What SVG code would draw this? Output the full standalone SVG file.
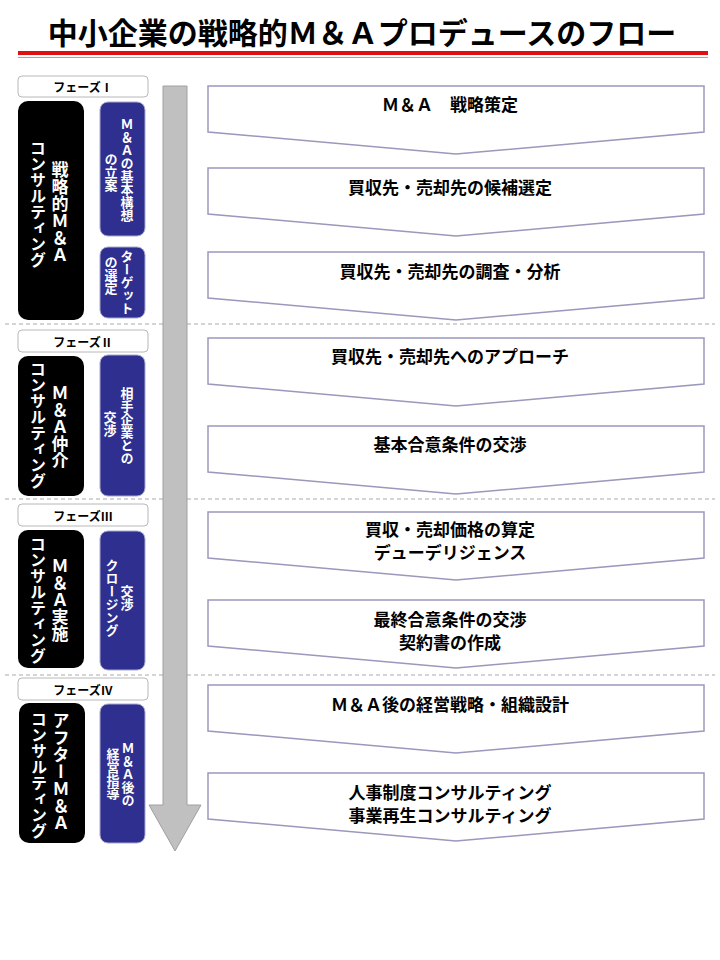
<svg xmlns="http://www.w3.org/2000/svg" width="720" height="960" viewBox="0 0 720 960">
<style>
text{font-family:"Noto Sans CJK JP","Liberation Sans",sans-serif;font-weight:bold;}
.title{font-size:30px;fill:#000;}
.step{fill:#fff;stroke:#9a98bc;stroke-width:1.5;}
.st{font-size:17px;fill:#000;text-anchor:middle;dominant-baseline:central;}
.lab{fill:#fff;stroke:#b8b8b8;stroke-width:1;}
.lt{font-size:12px;fill:#000;text-anchor:middle;dominant-baseline:central;}
.blk{fill:#000;}
.blu{fill:#2e2f8f;stroke:#a9a9d0;stroke-width:1;}
.vb{writing-mode:vertical-rl;font-size:17px;fill:#fff;text-anchor:middle;}
.vc{writing-mode:vertical-rl;font-size:16px;fill:#fff;text-anchor:middle;}
.vs{writing-mode:vertical-rl;font-size:13px;fill:#fff;text-anchor:middle;}
.dash{stroke:#aaa;stroke-width:1;stroke-dasharray:4 3;fill:none;}
</style>
<rect width="720" height="960" fill="#fff"/>
<g id="title">
<text class="title" x="362" y="44" text-anchor="middle">中小企業の戦略的Ｍ＆Ａプロデュースのフロー</text>
<rect x="18" y="51" width="690" height="4" fill="#e01010"/>
<line x1="18" y1="57.5" x2="708" y2="57.5" stroke="#d89090" stroke-width="1"/>
</g>
<g id="separators">
<line class="dash" x1="5" y1="324" x2="715" y2="324"/>
<line class="dash" x1="5" y1="499" x2="715" y2="499"/>
<line class="dash" x1="5" y1="675" x2="715" y2="675"/>
</g>
<g id="connectors">
<polygon points="163,86 187,86 187,805 201,805 175,851 149,805 163,805" fill="#c0c0c0" stroke="#a0a0a0" stroke-width="1"/>
</g>
<g id="phase1">
<rect class="lab" x="18" y="76" width="130" height="21" rx="4"/>
<text class="lt" x="83" y="86.5">フェーズⅠ</text>
<rect class="blk" x="18" y="101" width="66" height="219" rx="10"/>
<text class="vb" x="60" y="212">戦略的Ｍ＆Ａ</text>
<text class="vc" x="38" y="204">コンサルティング</text>
<rect class="blu" x="100" y="102" width="45" height="134" rx="8"/>
<text class="vs" x="127" y="170">Ｍ＆Ａの基本構想</text>
<text class="vs" x="111" y="172">の立案</text>
<rect class="blu" x="100" y="247" width="45" height="71" rx="8"/>
<text class="vs" x="127" y="282">ターゲット</text>
<text class="vs" x="111" y="275">の選定</text>
</g>
<g id="phase2">
<rect class="lab" x="18" y="330" width="130" height="22" rx="4"/>
<text class="lt" x="83" y="341">フェーズⅡ</text>
<rect class="blk" x="18" y="356" width="66" height="140" rx="10"/>
<text class="vb" x="60" y="427">Ｍ＆Ａ仲介</text>
<text class="vc" x="38" y="425">コンサルティング</text>
<rect class="blu" x="100" y="355" width="45" height="141" rx="8"/>
<text class="vs" x="127" y="426">相手企業との</text>
<text class="vs" x="110" y="424">交渉</text>
</g>
<g id="phase3">
<rect class="lab" x="18" y="504" width="130" height="22" rx="4"/>
<text class="lt" x="83" y="515">フェーズⅢ</text>
<rect class="blk" x="18" y="530" width="66" height="138" rx="10"/>
<text class="vb" x="60" y="600">Ｍ＆Ａ実施</text>
<text class="vc" x="38" y="600">コンサルティング</text>
<rect class="blu" x="100" y="531" width="45" height="139" rx="8"/>
<text class="vs" x="127" y="598">交渉</text>
<text class="vs" x="112" y="598">クロージング</text>
</g>
<g id="phase4">
<rect class="lab" x="18" y="678" width="130" height="22" rx="4"/>
<text class="lt" x="83" y="689">フェーズⅣ</text>
<rect class="blk" x="19" y="703" width="66" height="140" rx="10"/>
<text class="vb" x="61" y="772">アフターＭ＆Ａ</text>
<text class="vc" x="39" y="775">コンサルティング</text>
<rect class="blu" x="100" y="704" width="45" height="139" rx="8"/>
<text class="vs" x="128" y="774">Ｍ＆Ａ後の</text>
<text class="vs" x="113" y="774">経営指導</text>
</g>
<g id="step1">
<polygon class="step" points="208,86 704,86 704,132 456,154 208,132"/>
<text class="st" x="450" y="103">Ｍ＆Ａ　戦略策定</text>
</g>
<g id="step2">
<polygon class="step" points="208,168 704,168 704,214 456,236 208,214"/>
<text class="st" x="450" y="186">買収先・売却先の候補選定</text>
</g>
<g id="step3">
<polygon class="step" points="208,252 704,252 704,298 456,320 208,298"/>
<text class="st" x="450" y="270">買収先・売却先の調査・分析</text>
</g>
<g id="step4">
<polygon class="step" points="208,338 704,338 704,384 456,406 208,384"/>
<text class="st" x="450" y="355">買収先・売却先へのアプローチ</text>
</g>
<g id="step5">
<polygon class="step" points="208,426 704,426 704,472 456,494 208,472"/>
<text class="st" x="450" y="443">基本合意条件の交渉</text>
</g>
<g id="step6">
<polygon class="step" points="208,512 704,512 704,558 456,580 208,558"/>
<text class="st" x="450" y="528">買収・売却価格の算定</text>
<text class="st" x="450" y="551">デューデリジェンス</text>
</g>
<g id="step7">
<polygon class="step" points="208,600 704,600 704,646 456,668 208,646"/>
<text class="st" x="450" y="618">最終合意条件の交渉</text>
<text class="st" x="450" y="641">契約書の作成</text>
</g>
<g id="step8">
<polygon class="step" points="208,685 704,685 704,731 456,753 208,731"/>
<text class="st" x="450" y="703">Ｍ＆Ａ後の経営戦略・組織設計</text>
</g>
<g id="step9">
<polygon class="step" points="208,773 704,773 704,819 456,841 208,819"/>
<text class="st" x="450" y="791">人事制度コンサルティング</text>
<text class="st" x="450" y="814">事業再生コンサルティング</text>
</g>
</svg>
